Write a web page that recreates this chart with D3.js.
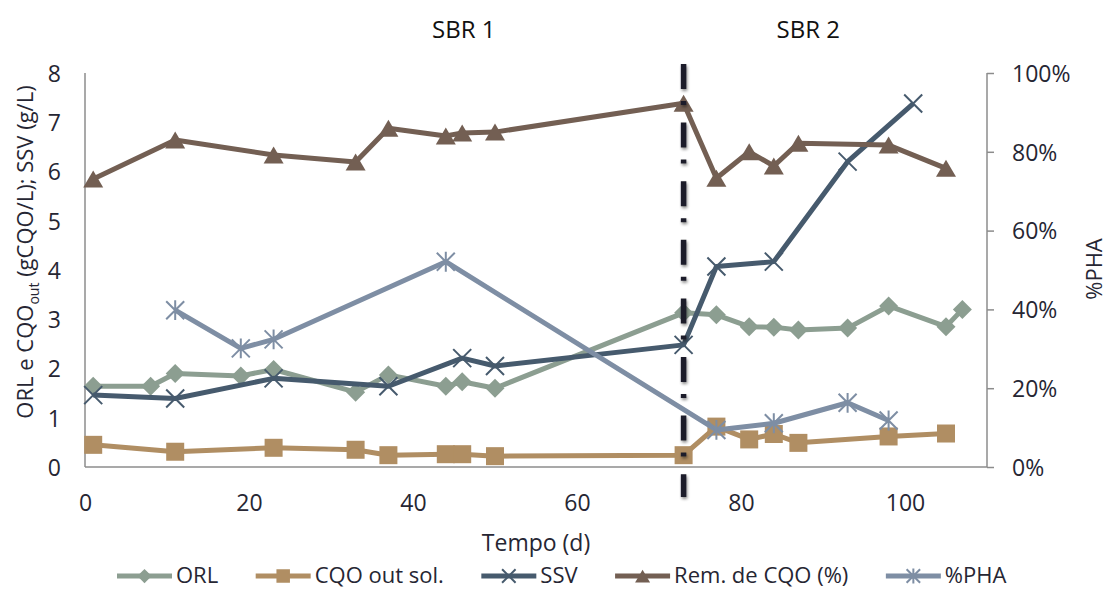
<!DOCTYPE html>
<html>
<head>
<meta charset="utf-8">
<script src="https://cdn.jsdelivr.net/npm/d3@7"></script>
<style>
  html, body { margin: 0; padding: 0; background: #fff; }
  svg { display: block; font-family: "Open Sans", sans-serif; }
</style>
</head>
<body>
<svg id="chart" width="1109" height="590"></svg>
<script>
// ---- data ----
const orlDays = [1, 8, 11, 19, 23, 33, 37, 44, 46, 50, 73, 77, 81, 84, 87, 93, 98, 105, 107];
const orlValues = [1.64, 1.64, 1.90, 1.85, 1.98, 1.52, 1.87, 1.64, 1.73, 1.60, 3.13, 3.09, 2.85, 2.84, 2.78, 2.82, 3.27, 2.85, 3.20];

const cqoDays = [1, 11, 23, 33, 37, 44, 46, 50, 73, 77, 81, 84, 87, 98, 105];
const cqoValues = [0.45, 0.31, 0.39, 0.35, 0.24, 0.26, 0.26, 0.22, 0.24, 0.82, 0.56, 0.67, 0.49, 0.62, 0.68];

const ssvDays = [1, 11, 23, 37, 46, 50, 73, 77, 84, 93, 101];
const ssvValues = [1.46, 1.39, 1.80, 1.64, 2.21, 2.05, 2.48, 4.07, 4.17, 6.20, 7.38];

const remDays = [1, 11, 23, 33, 37, 44, 46, 50, 73, 77, 81, 84, 87, 98, 105];
const remPct = [73.1, 83.0, 79.2, 77.4, 86.0, 84.0, 84.8, 85.0, 92.3, 73.3, 80.0, 76.4, 82.2, 81.7, 75.8];

const phaDays = [11, 19, 23, 44, 77, 84, 93, 98];
const phaPct = [39.8, 30.1, 32.4, 52.1, 9.4, 11.1, 16.3, 11.8];

const xTicks = [0, 20, 40, 60, 80, 100];
const yLeftTicks = [0, 1, 2, 3, 4, 5, 6, 7, 8];
const yRightTicks = [0, 20, 40, 60, 80, 100];

const phaseSwitchDay = 73;
const phaseLabels = ["SBR 1", "SBR 2"];
const phaseLabelDays = [46.2, 88.2];

// ---- layout ----
const svg = d3.select("#chart");
const plot = { left: 85, right: 987, top: 73, bottom: 467 };
const textColor = "#262633";
const axisColor = "#8c8c8c";
const fontSize = 23;

const x = d3.scaleLinear().domain([0, 110]).range([plot.left, plot.right]);
const yL = d3.scaleLinear().domain([0, 8]).range([plot.bottom, plot.top]);
const yR = d3.scaleLinear().domain([0, 100]).range([plot.bottom, plot.top]);

// drop shadow for the phase divider
const xs = x(phaseSwitchDay);
const defs = svg.append("defs");
const f = defs.append("filter").attr("id", "shadow")
  .attr("filterUnits", "userSpaceOnUse")
  .attr("x", xs - 20).attr("y", plot.top - 30).attr("width", 40).attr("height", 500);
f.append("feGaussianBlur").attr("in", "SourceAlpha").attr("stdDeviation", 1.8).attr("result", "b");
f.append("feOffset").attr("in", "b").attr("dx", 1).attr("dy", 2).attr("result", "o");
f.append("feComponentTransfer").attr("in", "o").attr("result", "s")
  .append("feFuncA").attr("type", "linear").attr("slope", 0.45);
const fm = f.append("feMerge");
fm.append("feMergeNode").attr("in", "s");
fm.append("feMergeNode").attr("in", "SourceGraphic");

// ---- axes ----
const xAxis = d3.axisBottom(x).tickValues(xTicks).tickSize(0).tickPadding(0);
const gx = svg.append("g").attr("transform", `translate(0,${plot.bottom})`).call(xAxis);
gx.select(".domain").remove();
gx.selectAll("text").attr("y", 44).attr("dy", 0)
  .attr("fill", textColor).style("font-size", fontSize + "px").style("font-family", "Open Sans");

const yAxisL = d3.axisLeft(yL).tickValues(yLeftTicks).tickSize(0).tickPadding(24);
const gyl = svg.append("g").attr("transform", `translate(${plot.left},0)`).call(yAxisL);
gyl.select(".domain").remove();
gyl.selectAll("text").attr("dy", "0.36em")
  .attr("fill", textColor).style("font-size", fontSize + "px").style("font-family", "Open Sans");

const yAxisR = d3.axisRight(yR).tickValues(yRightTicks).tickSize(7).tickPadding(18)
  .tickFormat(d => d + "%");
const gyr = svg.append("g").attr("transform", `translate(${plot.right},0)`).call(yAxisR);
gyr.select(".domain").remove();
gyr.selectAll("line").attr("stroke", axisColor).attr("stroke-width", 1.5);
gyr.selectAll("text").attr("dy", "0.36em")
  .attr("fill", textColor).style("font-size", fontSize + "px").style("font-family", "Open Sans");

// axis lines
svg.append("line").attr("x1", plot.left).attr("x2", plot.left)
  .attr("y1", plot.top).attr("y2", plot.bottom).attr("stroke", axisColor).attr("stroke-width", 1.5);
svg.append("line").attr("x1", plot.left).attr("x2", plot.right)
  .attr("y1", plot.bottom).attr("y2", plot.bottom).attr("stroke", axisColor).attr("stroke-width", 1.5);
svg.append("line").attr("x1", plot.right).attr("x2", plot.right)
  .attr("y1", plot.top).attr("y2", plot.bottom).attr("stroke", axisColor).attr("stroke-width", 1.5);

// axis titles
svg.append("text").attr("x", (plot.left + plot.right) / 2).attr("y", 551)
  .attr("text-anchor", "middle").attr("fill", textColor).style("font-size", fontSize + "px")
  .text("Tempo (d)");

const yTitle = svg.append("text")
  .attr("transform", `translate(33,252) rotate(-90)`)
  .attr("text-anchor", "middle").attr("fill", textColor).style("font-size", "22px");
yTitle.append("tspan").text("ORL e CQO");
yTitle.append("tspan").attr("dy", 6).style("font-size", "14px").text("out");
yTitle.append("tspan").attr("dy", -6).text(" (gCQO/L); SSV (g/L)");

svg.append("text").attr("transform", `translate(1102,269) rotate(-90)`)
  .attr("text-anchor", "middle").attr("fill", textColor).style("font-size", "22px")
  .text("%PHA");

// phase labels
svg.selectAll(".phase").data(phaseLabels).join("text")
  .attr("class", "phase")
  .attr("x", (d, i) => x(phaseLabelDays[i])).attr("y", 38)
  .attr("text-anchor", "middle").attr("fill", "#111").style("font-size", "24px")
  .text(d => d);

// ---- series ----
const series = [
  { name: "ORL", days: orlDays, values: orlValues, y: yL, color: "#8c9e91", marker: "diamond" },
  { name: "CQO out sol.", days: cqoDays, values: cqoValues, y: yL, color: "#b08e63", marker: "square" },
  { name: "SSV", days: ssvDays, values: ssvValues, y: yL, color: "#465a6d", marker: "cross" },
  { name: "Rem. de CQO (%)", days: remDays, values: remPct, y: yR, color: "#735f53", marker: "triangle" },
  { name: "%PHA", days: phaDays, values: phaPct, y: yR, color: "#7e8ea4", marker: "star" }
];

function drawMarker(g, type, color, size) {
  const s = size;
  if (type === "diamond") {
    g.append("path").attr("d", `M0,${-s/2}L${s/2},0L0,${s/2}L${-s/2},0Z`).attr("fill", color);
  } else if (type === "square") {
    g.append("rect").attr("x", -s/2).attr("y", -s/2).attr("width", s).attr("height", s)
      .attr("fill", color);
  } else if (type === "triangle") {
    const h = s * 0.85;
    g.append("path").attr("d", `M0,${-h/2}L${s/2},${h/2}L${-s/2},${h/2}Z`).attr("fill", color);
  } else if (type === "cross") {
    const r = s / 2;
    g.append("path").attr("d", `M${-r},${-r}L${r},${r}M${-r},${r}L${r},${-r}`)
      .attr("stroke", color).attr("stroke-width", 2).attr("fill", "none");
  } else if (type === "star") {
    const r = s / 2;
    g.append("path").attr("d", `M${-r},${-r}L${r},${r}M${-r},${r}L${r},${-r}M0,${-r * 1.1}L0,${r * 1.1}`)
      .attr("stroke", color).attr("stroke-width", 2).attr("fill", "none");
  }
}

const markerSize = { diamond: 19, square: 18, triangle: 20, cross: 18, star: 18 };

series.forEach(s => {
  const pts = s.days.map((d, i) => [d, s.values[i]]);
  const line = d3.line().x(d => x(d[0])).y(d => s.y(d[1]));
  const g = svg.append("g");
  g.append("path").attr("d", line(pts)).attr("fill", "none")
    .attr("stroke", s.color).attr("stroke-width", 5).attr("stroke-linejoin", "round");
  pts.forEach(p => {
    const mg = g.append("g").attr("transform", `translate(${x(p[0])},${s.y(p[1])})`);
    drawMarker(mg, s.marker, s.color, markerSize[s.marker]);
  });
});

// phase divider (dash-dot)
svg.append("line")
  .attr("x1", xs).attr("x2", xs)
  .attr("y1", plot.top - 9).attr("y2", plot.bottom + 30)
  .attr("stroke", "#1e1e2a").attr("stroke-width", 5.5)
  .attr("stroke-dasharray", "25,12,4,17.6")
  .attr("filter", "url(#shadow)");

// ---- legend ----
const legend = svg.append("g").style("font-size", "22px");
let lx = 117;
const ly = 576;
series.forEach(s => {
  const g = legend.append("g");
  g.append("line").attr("x1", lx).attr("x2", lx + 55).attr("y1", ly).attr("y2", ly)
    .attr("stroke", s.color).attr("stroke-width", 5);
  const mg = g.append("g").attr("transform", `translate(${lx + 27.5},${ly})`);
  drawMarker(mg, s.marker, s.color, markerSize[s.marker] * 0.75);
  const t = g.append("text").attr("x", lx + 59).attr("y", ly + 7).attr("fill", textColor).text(s.name);
  lx += 59 + t.node().getComputedTextLength() + 37.5;
});
</script>
</body>
</html>
